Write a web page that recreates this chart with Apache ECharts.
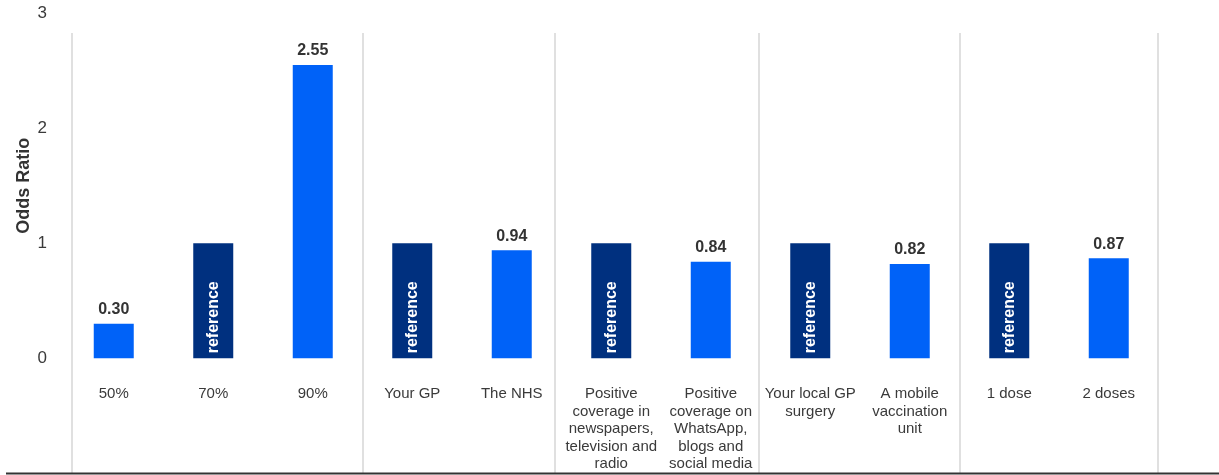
<!DOCTYPE html>
<html>
<head>
<meta charset="utf-8">
<script src="https://cdn.jsdelivr.net/npm/echarts@6/dist/echarts.min.js"></script>
<style>
  html, body { margin: 0; padding: 0; background: #ffffff; }
  #chart { width: 1219px; height: 475px; }
</style>
</head>
<body>
<div id="chart"></div>
<script>
const categories = [
  '50%', '70%', '90%',
  'Your GP', 'The NHS',
  'Positive\ncoverage in\nnewspapers,\ntelevision and\nradio',
  'Positive\ncoverage on\nWhatsApp,\nblogs and\nsocial media',
  'Your local GP\nsurgery', 'A mobile\nvaccination\nunit',
  '1 dose', '2 doses'
];
const oddsRatios = [0.30, 1, 2.55, 1, 0.94, 1, 0.84, 1, 0.82, 1, 0.87];
const isReference = [false, true, false, true, false, true, false, true, false, true, false];
const groupSeparators = [-0.42, 2.5, 4.43, 6.48, 8.5, 10.49];
const yTicks = { min: 0, max: 3, interval: 1 };

const FONT = '"Liberation Sans", Arial, sans-serif';
const REF_COLOR = '#00307f';
const BAR_COLOR = '#0062f8';

const barData = oddsRatios.map((v, i) => {
  if (isReference[i]) {
    return {
      value: v,
      itemStyle: { color: REF_COLOR },
      label: {
        show: true,
        formatter: 'reference',
        position: 'insideBottom',
        distance: 5,
        rotate: 90,
        align: 'left',
        verticalAlign: 'middle',
        color: '#ffffff',
        fontSize: 16,
        fontWeight: 'bold',
        fontFamily: FONT
      }
    };
  }
  return {
    value: v,
    itemStyle: { color: BAR_COLOR },
    label: {
      show: true,
      position: 'top',
      distance: 6,
      formatter: (p) => p.value.toFixed(2),
      color: '#333333',
      fontSize: 16,
      fontWeight: 'bold',
      fontFamily: FONT
    }
  };
});

const chart = echarts.init(document.getElementById('chart'), null, { renderer: 'canvas' });
chart.setOption({
  animation: false,
  backgroundColor: '#ffffff',
  grid: [
    { left: 64, right: 60.5, top: 13.3, bottom: 116.7 },
    { left: 64, right: 60.5, top: 33, bottom: 2 }
  ],
  xAxis: [
    {
      type: 'category',
      gridIndex: 0,
      data: categories,
      axisLine: { show: false },
      axisTick: { show: false },
      splitLine: { show: false },
      axisLabel: {
        interval: 0,
        margin: 27,
        fontSize: 15,
        lineHeight: 17.5,
        color: '#3a3a3a',
        fontFamily: FONT,
        align: 'center'
      }
    },
    {
      type: 'value',
      gridIndex: 1,
      min: -0.5,
      max: 10.5,
      show: false
    }
  ],
  yAxis: [
    {
      type: 'value',
      gridIndex: 0,
      min: yTicks.min,
      max: yTicks.max,
      interval: yTicks.interval,
      name: 'Odds Ratio',
      nameLocation: 'middle',
      nameGap: 31,
      nameMoveOverlap: false,
      nameTextStyle: {
        fontSize: 18,
        fontWeight: 'bold',
        color: '#333333',
        fontFamily: FONT
      },
      axisLine: { show: false },
      axisTick: { show: false },
      splitLine: { show: false },
      axisLabel: {
        margin: 17,
        fontSize: 17,
        color: '#3a3a3a',
        fontFamily: FONT
      }
    },
    {
      type: 'value',
      gridIndex: 1,
      min: 0,
      max: 1,
      show: false
    }
  ],
  graphic: [
    {
      type: 'line',
      shape: { x1: 6, y1: 473.5, x2: 1219, y2: 473.5 },
      style: { stroke: '#333333', lineWidth: 2 },
      silent: true,
      z: 10
    }
  ],
  series: [
    {
      type: 'bar',
      xAxisIndex: 0,
      yAxisIndex: 0,
      barWidth: 40,
      data: barData
    },
    {
      type: 'line',
      xAxisIndex: 1,
      yAxisIndex: 1,
      data: [],
      silent: true,
      markLine: {
        silent: true,
        symbol: 'none',
        label: { show: false },
        lineStyle: { color: '#d6d6d6', width: 1.5, type: 'solid' },
        data: groupSeparators.map(v => ({ xAxis: v }))
      }
    }
  ]
});
</script>
</body>
</html>
